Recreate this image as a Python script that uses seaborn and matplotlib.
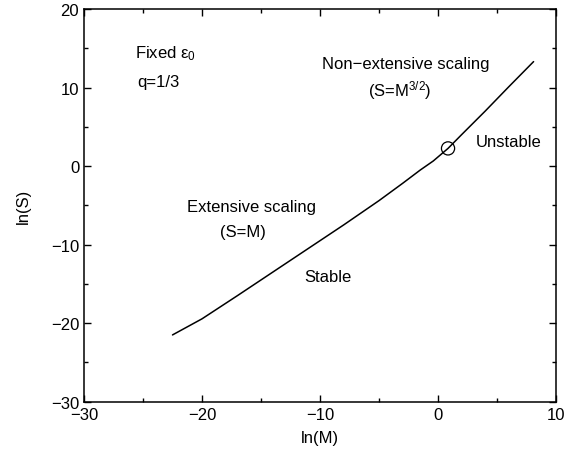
import matplotlib
matplotlib.use("Agg")
import matplotlib.pyplot as plt
import seaborn as sns
import pandas as pd
from matplotlib.ticker import MultipleLocator

# Data
ln_m = [-22.5, -20.0, -17.0, -14.0, -11.0, -8.0, -5.0, -3.0, -1.5, -0.4, 0.85, 2.0, 4.0, 6.0, 8.1]
ln_s = [-21.5, -19.45, -16.5, -13.5, -10.5, -7.5, -4.4, -2.2, -0.5, 0.65, 2.25, 4.0, 7.0, 10.1, 13.3]
transition_m = [0.85]
transition_s = [2.25]

x_ticks = [-30, -20, -10, 0, 10]
y_ticks = [-30, -20, -10, 0, 10, 20]

sns.set_style("ticks")
plt.rcParams['font.family'] = ['Liberation Sans', 'DejaVu Sans']
plt.rcParams['mathtext.fontset'] = 'custom'
plt.rcParams['mathtext.rm'] = 'Liberation Sans'
plt.rcParams['mathtext.it'] = 'Liberation Sans'
plt.rcParams['mathtext.default'] = 'regular'
plt.rcParams['text.color'] = 'black'
plt.rcParams['axes.labelcolor'] = 'black'
plt.rcParams['xtick.color'] = 'black'
plt.rcParams['ytick.color'] = 'black'

fig = plt.figure(figsize=(5.87, 4.52), dpi=100)
ax = fig.add_axes([0.1431, 0.1091, 0.9472 - 0.1431, 0.9779 - 0.1091])

df = pd.DataFrame({"lnM": ln_m, "lnS": ln_s})
sns.lineplot(data=df, x="lnM", y="lnS", sort=False, color="black", linewidth=1.1, ax=ax)
pt = pd.DataFrame({"lnM": transition_m, "lnS": transition_s})
sns.scatterplot(data=pt, x="lnM", y="lnS", s=90, facecolor="none", edgecolor="black",
                linewidth=0.9, ax=ax, zorder=5)

ax.set_xlim(-30, 10)
ax.set_ylim(-30, 20)
ax.set_xticks(x_ticks)
ax.set_yticks(y_ticks)
ax.xaxis.set_minor_locator(MultipleLocator(5))
ax.yaxis.set_minor_locator(MultipleLocator(5))
ax.tick_params(which="both", direction="in", top=True, right=True, labelsize=12, color="black",
               labelcolor="black")
ax.tick_params(which="major", length=5, width=1)
ax.tick_params(which="minor", length=3, width=1)
for s in ax.spines.values():
    s.set_linewidth(1.1)
    s.set_color("black")

ax.set_xlabel("ln(M)", fontsize=12, labelpad=6)
ax.set_ylabel("ln(S)", fontsize=12, labelpad=14)

fs = 12
ax.text(-25.7, 14.5, "Fixed ε$_{0}$", fontsize=fs, ha="left", va="center")
ax.text(-25.5, 10.8, "q=1/3", fontsize=fs, ha="left", va="center")
ax.text(-2.7, 13.1, "Non\u2212extensive scaling", fontsize=fs, ha="center", va="center")
ax.text(-3.2, 9.8, "(S=M$^{3/2}$)", fontsize=fs, ha="center", va="center")
ax.text(6.0, 3.16, "Unstable", fontsize=fs, ha="center", va="center")
ax.text(-15.8, -5.1, "Extensive scaling", fontsize=fs, ha="center", va="center")
ax.text(-16.5, -8.3, "(S=M)", fontsize=fs, ha="center", va="center")
ax.text(-9.3, -14.0, "Stable", fontsize=fs, ha="center", va="center")

fig.savefig("out.png", dpi=100)
